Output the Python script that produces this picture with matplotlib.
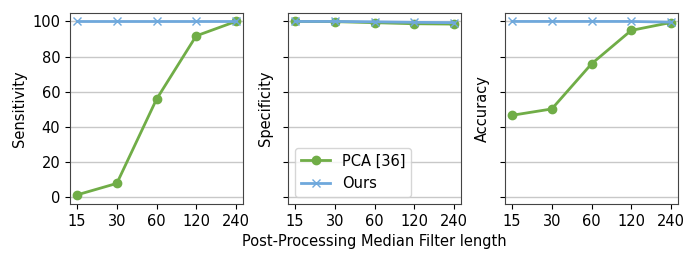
import matplotlib.pyplot as plt
import numpy as np

filter_lengths = ['15', '30', '60', '120', '240']

sens_pca = [1.5, 8.0, 55.8, 91.8, 100.0]
sens_ours = [100.0, 100.0, 100.0, 100.0, 100.0]
spec_pca = [100.0, 99.9, 99.3, 98.7, 98.5]
spec_ours = [100.0, 100.0, 99.8, 99.5, 99.3]
acc_pca = [46.7, 50.3, 75.9, 94.9, 99.4]
acc_ours = [100.0, 100.0, 100.0, 100.0, 99.6]

green = '#70ad47'
blue = '#6fa8dc'

plt.rcParams['font.size'] = 10.5

fig = plt.figure(figsize=(6.98, 2.62), dpi=100)
x = np.arange(len(filter_lengths))

panels = [(sens_pca, sens_ours, 'Sensitivity'),
          (spec_pca, spec_ours, 'Specificity'),
          (acc_pca, acc_ours, 'Accuracy')]
lefts = [70, 288, 505]
width = 173

axes = []
for i, (pca, ours, name) in enumerate(panels):
    ax = fig.add_axes([lefts[i] / 698, 1 - 204 / 262, width / 698, (204 - 13) / 262])
    ax.plot(x, pca, color=green, marker='o', markersize=6, linewidth=2, label='PCA [36]')
    ax.plot(x, ours, color=blue, marker='x', markersize=6, linewidth=2, label='Ours')
    ax.set_xticks(x)
    ax.set_xticklabels(filter_lengths)
    ax.set_xlim(-0.18, 4.18)
    ax.set_ylim(-3.7, 104.8)
    ax.set_yticks([0, 20, 40, 60, 80, 100])
    ax.yaxis.grid(True, color='#c8c8c8', linewidth=1)
    ax.set_axisbelow(True)
    ax.set_ylabel(name)
    for s in ax.spines.values():
        s.set_color('#444444')
    if i > 0:
        ax.set_yticklabels([])
    axes.append(ax)

axes[1].legend(loc='lower left', handlelength=2.0)
axes[1].set_xlabel('Post-Processing Median Filter length')

fig.savefig('out.png', dpi=100)
